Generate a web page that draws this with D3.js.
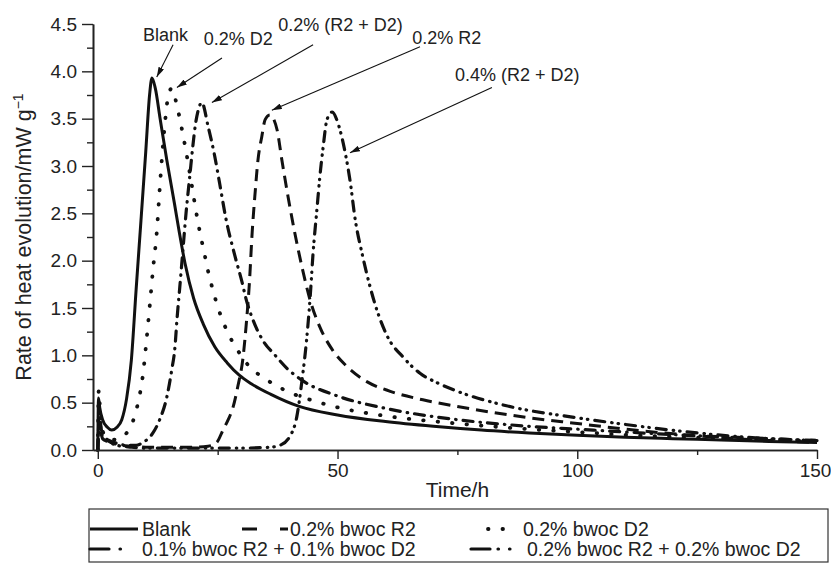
<!DOCTYPE html>
<html>
<head>
<meta charset="utf-8">
<script src="https://cdn.jsdelivr.net/npm/d3@7"></script>
<style>
  body { margin: 0; background: #fff; }
  svg { display: block; font-family: "Liberation Sans", Arial, sans-serif; }
</style>
</head>
<body>
<div id="chart"></div>
<script>

// ---- data ----
var blankT = [0, 0.15, 0.4, 1, 2, 2.9, 4, 5, 6, 7, 8, 9, 10, 10.8, 11.3, 12, 13, 14.4, 16, 17, 18.2, 20, 22, 24.4, 27, 29.5, 32, 36, 42, 50, 60, 70, 80, 90, 100, 110, 120, 130, 140, 150];
var blankV = [0, 0.55, 0.45, 0.32, 0.24, 0.21, 0.24, 0.32, 0.54, 0.95, 1.7, 2.42, 3.15, 3.75, 3.93, 3.82, 3.5, 3.06, 2.6, 2.3, 1.97, 1.6, 1.33, 1.09, 0.92, 0.79, 0.7, 0.59, 0.46, 0.37, 0.3, 0.25, 0.21, 0.18, 0.155, 0.135, 0.12, 0.105, 0.09, 0.08];

var r2T = [0, 0.3, 1, 2, 4, 7, 10, 15, 20, 23, 24.8, 26.1, 27.2, 28.2, 29.2, 30.3, 31, 31.6, 32.2, 32.8, 33.4, 34.2, 34.9, 35.9, 37.4, 38.4, 39.7, 41.1, 42.6, 44.3, 46.3, 48.9, 52, 56.2, 61, 67.8, 75, 90, 100, 110, 125, 140, 150];
var r2V = [0, 0.35, 0.15, 0.1, 0.06, 0.04, 0.03, 0.03, 0.03, 0.04, 0.08, 0.21, 0.32, 0.45, 0.67, 0.98, 1.35, 1.75, 2.3, 2.71, 3.06, 3.31, 3.49, 3.54, 3.38, 3.06, 2.67, 2.29, 1.93, 1.58, 1.3, 1.06, 0.88, 0.72, 0.62, 0.53, 0.46, 0.34, 0.28, 0.22, 0.15, 0.1, 0.08];

var d2T = [0, 0.2, 0.5, 1, 2, 3, 4, 5.2, 6.3, 7.3, 8.4, 9.4, 10.2, 10.9, 11.5, 12.3, 12.9, 13.4, 14, 14.5, 15.4, 16.5, 17.3, 18.6, 19.6, 20.5, 21.3, 22.3, 23, 24, 25.1, 26.5, 27.6, 29.6, 31.3, 35, 39.5, 45, 50, 60, 75, 90, 100, 110, 125, 140, 150];
var d2V = [0, 0.63, 0.4, 0.2, 0.13, 0.11, 0.11, 0.14, 0.2, 0.3, 0.5, 0.79, 1.18, 1.56, 1.9, 2.3, 2.75, 3.1, 3.45, 3.68, 3.82, 3.64, 3.45, 3.1, 2.8, 2.52, 2.3, 2.06, 1.89, 1.69, 1.5, 1.31, 1.19, 1.02, 0.9, 0.75, 0.62, 0.52, 0.45, 0.36, 0.28, 0.22, 0.19, 0.16, 0.13, 0.1, 0.09];

var mix1T = [0, 0.3, 1, 2, 4, 6, 8, 9.4, 10.5, 11.5, 12.9, 14.4, 15.4, 16.1, 16.5, 17.1, 17.7, 18.4, 19.2, 19.8, 20.4, 21, 21.7, 23, 24.4, 25.4, 26.7, 28.6, 30.1, 30.9, 32.4, 34.4, 37, 39.5, 42.8, 50, 60, 75, 90, 100, 110, 125, 140, 150];
var mix1V = [0, 0.3, 0.14, 0.11, 0.07, 0.05, 0.05, 0.08, 0.12, 0.18, 0.32, 0.56, 0.84, 1.09, 1.37, 1.72, 2.08, 2.5, 2.9, 3.2, 3.45, 3.6, 3.67, 3.42, 3.1, 2.82, 2.45, 2.05, 1.77, 1.6, 1.37, 1.16, 1.0, 0.86, 0.73, 0.57, 0.44, 0.32, 0.25, 0.22, 0.19, 0.15, 0.12, 0.1];

var mix2T = [0, 0.3, 1, 2, 4, 7, 10, 20, 30, 36, 38, 40, 41.5, 42.6, 43.6, 44.3, 44.9, 45.7, 46.3, 47, 47.8, 48.9, 50.1, 51.6, 52.6, 53.7, 55.1, 56.4, 58.2, 60.5, 63.7, 67.2, 70.8, 75, 85, 100, 110, 125, 140, 150];
var mix2V = [0, 0.25, 0.12, 0.09, 0.05, 0.03, 0.02, 0.02, 0.02, 0.03, 0.05, 0.14, 0.35, 0.74, 1.19, 1.62, 2.08, 2.54, 2.88, 3.2, 3.49, 3.57, 3.45, 3.14, 2.85, 2.43, 2.08, 1.8, 1.48, 1.19, 0.98, 0.81, 0.71, 0.62, 0.47, 0.34, 0.27, 0.18, 0.12, 0.1];

var seriesNames = ["Blank", "0.2% bwoc R2", "0.2% bwoc D2", "0.1% bwoc R2 + 0.1% bwoc D2", "0.2% bwoc R2 + 0.2% bwoc D2"];

var yTicks = [0, 0.5, 1, 1.5, 2, 2.5, 3, 3.5, 4, 4.5];
var yMinor = [0.25, 0.75, 1.25, 1.75, 2.25, 2.75, 3.25, 3.75, 4.25];
var xTicks = [0, 50, 100, 150];
var xMinor = [25, 75, 125];

// annotations: label, label position, arrow start, arrow tip (data units)
var noteText = ["Blank", "0.2% D2", "0.2% (R2 + D2)", "0.2% R2", "0.4% (R2 + D2)"];
var noteAt   = [[14.1, 4.39], [29.3, 4.35], [50.6, 4.49], [72.8, 4.36], [87.5, 3.97]];
var noteFrom = [[15.7, 4.28], [25.9, 4.14], [44.9, 4.28], [67.2, 4.26], [82.2, 3.83]];
var noteTo   = [[12.3, 3.94], [16.5, 3.83], [23.8, 3.67], [36.3, 3.59], [52.6, 3.14]];

// ---- chart ----
var W = 831, H = 564;
var svg = d3.select("#chart").append("svg")
  .attr("width", W)
  .attr("height", H);

var x = d3.scaleLinear().domain([-1, 150]).range([93, 817]);
var y = d3.scaleLinear().domain([0, 4.5]).range([450, 24]);

var styles = [
  { dash: null, cap: "butt", w: 3 },
  { dash: "12,7", cap: "butt", w: 3 },
  { dash: "0.5,14", cap: "round", w: 3.8 },
  { dash: "10,7,0.5,7", cap: "round", w: 3.2 },
  { dash: "10,7,0.5,6,0.5,7", cap: "round", w: 3.2 }
];

var series = [
  { t: blankT, v: blankV },
  { t: r2T, v: r2V },
  { t: d2T, v: d2V },
  { t: mix1T, v: mix1V },
  { t: mix2T, v: mix2V }
];

var line = d3.line()
  .x(function(d) { return x(d[0]); })
  .y(function(d) { return y(d[1]); })
  .curve(d3.curveMonotoneX);

svg.selectAll("path.curve")
  .data(series)
  .enter().append("path")
  .attr("class", "curve")
  .attr("d", function(s) { return line(d3.zip(s.t, s.v)); })
  .attr("fill", "none")
  .attr("stroke", "#111")
  .attr("stroke-width", function(s, i) { return styles[i].w; })
  .attr("stroke-linecap", function(s, i) { return styles[i].cap; })
  .attr("stroke-dasharray", function(s, i) { return styles[i].dash; });

// axes
svg.append("g")
  .attr("transform", "translate(93,0)")
  .call(d3.axisLeft(y).tickValues(yTicks).tickFormat(d3.format(".1f")).tickSize(11).tickPadding(5).tickSizeOuter(0));
svg.append("g")
  .attr("transform", "translate(93,0)")
  .call(d3.axisLeft(y).tickValues(yMinor).tickFormat("").tickSize(6).tickSizeOuter(0));

var xAxis = svg.append("g")
  .attr("transform", "translate(0,450)")
  .call(d3.axisBottom(x).tickValues(xTicks).tickSize(9).tickPadding(5).tickSizeOuter(0));
svg.append("g")
  .attr("transform", "translate(0,450)")
  .call(d3.axisBottom(x).tickValues(xMinor).tickFormat("").tickSize(5).tickSizeOuter(0));

svg.selectAll(".domain").attr("stroke", "#222").attr("stroke-width", 1.6);
svg.selectAll(".tick line").attr("stroke", "#222").attr("stroke-width", 1.4);
svg.selectAll(".tick text")
  .attr("font-family", "Liberation Sans, Arial, sans-serif")
  .attr("font-size", 19)
  .attr("fill", "#222");
// keep the last x label inside the picture
xAxis.selectAll(".tick text").filter(function(d) { return d === 150; }).attr("dx", -2);

// axis titles
svg.append("text")
  .attr("x", x(75))
  .attr("y", 497)
  .attr("text-anchor", "middle")
  .attr("font-size", 21)
  .attr("fill", "#222")
  .text("Time/h");

var yt = svg.append("text")
  .attr("transform", "translate(31," + y(2.25) + ") rotate(-90)")
  .attr("text-anchor", "middle")
  .attr("font-size", 21.5)
  .attr("fill", "#222");
yt.append("tspan").text("Rate of heat evolution/mW g");
yt.append("tspan").attr("dy", -8).attr("font-size", 14).text("\u22121");

// annotations
svg.append("defs").append("marker")
  .attr("id", "arrow")
  .attr("viewBox", "0 0 10 6")
  .attr("refX", 10)
  .attr("refY", 3)
  .attr("markerWidth", 10)
  .attr("markerHeight", 6)
  .attr("markerUnits", "userSpaceOnUse")
  .attr("orient", "auto")
  .append("path")
  .attr("d", "M0,0L10,3L0,6Z")
  .attr("fill", "#111");

svg.selectAll("line.note")
  .data(noteText)
  .enter().append("line")
  .attr("class", "note")
  .attr("x1", function(d, i) { return x(noteFrom[i][0]); })
  .attr("y1", function(d, i) { return y(noteFrom[i][1]); })
  .attr("x2", function(d, i) { return x(noteTo[i][0]); })
  .attr("y2", function(d, i) { return y(noteTo[i][1]); })
  .attr("stroke", "#111")
  .attr("stroke-width", 1.1)
  .attr("marker-end", "url(#arrow)");

svg.selectAll("text.note")
  .data(noteText)
  .enter().append("text")
  .attr("class", "note")
  .attr("x", function(d, i) { return x(noteAt[i][0]); })
  .attr("y", function(d, i) { return y(noteAt[i][1]) + 6.5; })
  .attr("text-anchor", "middle")
  .attr("font-size", 18)
  .attr("fill", "#222")
  .text(function(d) { return d; });

// legend
var legend = svg.append("g");
legend.append("rect")
  .attr("x", 89).attr("y", 509)
  .attr("width", 739).attr("height", 53)
  .attr("fill", "none")
  .attr("stroke", "#333")
  .attr("stroke-width", 1.2);

// sample line start/end, baseline, text x and sample dash (as drawn in the key)
var legendPos = [[90, 138, 536], [242, 288, 536], [488, 503, 536], [90, 122, 556], [471, 521, 556]];
var legendTextX = [142, 290, 523, 142, 527];
var legendDash = [null, "15,23", "0.5,14", "19,11,0.5,20", "19,8,0.5,11,0.5,20"];

var items = legend.selectAll("g.item")
  .data(seriesNames)
  .enter().append("g")
  .attr("class", "item");

items.append("line")
  .attr("x1", function(d, i) { return legendPos[i][0]; })
  .attr("x2", function(d, i) { return legendPos[i][1]; })
  .attr("y1", function(d, i) { return legendPos[i][2] - 7; })
  .attr("y2", function(d, i) { return legendPos[i][2] - 7; })
  .attr("stroke", "#111")
  .attr("stroke-width", function(d, i) { return styles[i].w; })
  .attr("stroke-linecap", function(d, i) { return styles[i].cap; })
  .attr("stroke-dasharray", function(d, i) { return legendDash[i]; });

items.append("text")
  .attr("x", function(d, i) { return legendTextX[i]; })
  .attr("y", function(d, i) { return legendPos[i][2]; })
  .attr("font-size", 19.5)
  .attr("fill", "#222")
  .text(function(d) { return d; });

</script>
</body>
</html>
